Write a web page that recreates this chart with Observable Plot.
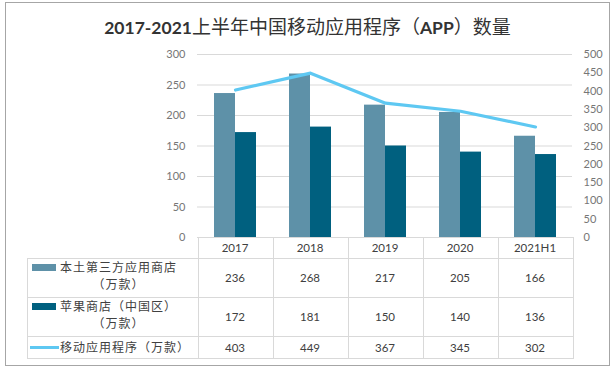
<!DOCTYPE html>
<html>
<head>
<meta charset="utf-8">
<script src="https://cdn.jsdelivr.net/npm/d3@7"></script>
<script src="https://cdn.jsdelivr.net/npm/@observablehq/plot@0.6"></script>
<style>
  html, body { margin: 0; padding: 0; background: #fff; }
  #wrap { position: relative; width: 615px; height: 368px; overflow: hidden; background: #fff;
          font-family: Lato, "Noto Sans CJK SC", sans-serif; }
  #frame { position: absolute; left: 5px; top: 2px; width: 605px; height: 364px; box-sizing: border-box;
           border: 1px solid #a6a6a6; }
  #title { position: absolute; left: 0; top: 13px; width: 615px; text-align: center; line-height: 25px;
           font-size: 19px; color: #333; font-family: "Noto Sans CJK SC", sans-serif; white-space: nowrap; }
  #title .lat { font-family: Lato, sans-serif; font-weight: bold; font-size: 17.5px; }
  #chart { position: absolute; left: 0; top: 0; }
  .cell { position: absolute; box-sizing: border-box; display: flex; align-items: center; justify-content: center;
          font-size: 11.5px; color: #404040; }
  .hl { position: absolute; height: 1px; background: #d9d9d9; }
  .vl { position: absolute; width: 1px; background: #d9d9d9; }
  .leg { position: absolute; box-sizing: border-box; display: flex; align-items: center;
         font-family: "Noto Sans CJK SC", sans-serif; font-size: 12px; letter-spacing: 1px; color: #404040; }
  .leg .txt { text-align: center; line-height: 16.5px; white-space: nowrap; }
</style>
</head>
<body>
<div id="wrap">
  <div id="frame"></div>
  <div id="title"></div>
</div>
<script>
// ---- data ----
const title = "2017-2021上半年中国移动应用程序（APP）数量";
const years = ["2017", "2018", "2019", "2020", "2021H1"];
const localStore = [236, 268, 217, 205, 166];   // 本土第三方应用商店（万款）
const appleStore = [172, 181, 150, 140, 136];   // 苹果商店（中国区）（万款）
const mobileApps = [403, 449, 367, 345, 302];   // 移动应用程序（万款）
const seriesNames = ["本土第三方应用商店（万款）", "苹果商店（中国区）（万款）", "移动应用程序（万款）"];
const leftTicks = [0, 50, 100, 150, 200, 250, 300];
const rightTicks = [0, 50, 100, 150, 200, 250, 300, 350, 400, 450, 500];

// ---- styles ----
const colors = ["#5e91a8", "#00607f", "#5ec8f2"];
const W = 615, H = 368;
const ratio = 300 / 500; // right axis -> left axis

const rows = years.map((y, i) => ({year: y, local: localStore[i], apple: appleStore[i], apps: mobileApps[i]}));

// Title (latin runs bold)
document.getElementById("title").innerHTML = title.replace(/[0-9A-Za-z\-]+/g, m => `<span class="lat">${m}</span>`);

const plot = Plot.plot({
  width: W, height: H,
  marginLeft: 197, marginRight: 43, marginTop: 54, marginBottom: 131,
  style: {fontFamily: "Lato, 'Noto Sans CJK SC', sans-serif", fontSize: "11px", background: "transparent"},
  x: {type: "band", domain: years, paddingInner: 0.44, paddingOuter: 0.22, axis: null},
  y: {domain: [0, 300]},
  marks: [
    Plot.ruleY(leftTicks, {stroke: "#d9d9d9", strokeWidth: 1}),
    Plot.barY(rows, {x: "year", y: "local", fill: colors[0], insetRight: 21}),
    Plot.barY(rows, {x: "year", y: "apple", fill: colors[1], insetLeft: 21}),
    Plot.lineY(rows, {x: "year", y: d => d.apps * ratio, stroke: colors[2], strokeWidth: 3.2}),
    Plot.axisY({anchor: "left", ticks: leftTicks, tickSize: 0, tickPadding: 12, label: null, color: "#767676", fontSize: 11}),
    Plot.axisY({anchor: "right", ticks: rightTicks.map(v => v * ratio), tickFormat: d => String(Math.round(d / ratio)),
                tickSize: 0, tickPadding: 11, label: null, color: "#767676", fontSize: 11})
  ]
});
plot.id = "chart";
const wrap = document.getElementById("wrap");
wrap.appendChild(plot);

// ---- data table below the plot, aligned to the x scale ----
const xs = plot.scale("x");
const step = xs.step, bw = xs.bandwidth;
const colLeft = years.map(y => xs.apply(y) - (step - bw) / 2);
const tableRight = colLeft[colLeft.length - 1] + step;
const legLeft = 27;
const rowY = [237, 258, 297, 336, 358];

function add(cls, style, html) {
  const d = document.createElement("div");
  d.className = cls;
  Object.assign(d.style, style);
  if (html != null) d.innerHTML = html;
  wrap.appendChild(d);
  return d;
}
// horizontal lines
add("hl", {left: colLeft[0] + "px", top: rowY[0] + "px", width: (tableRight - colLeft[0]) + "px"});
for (let r = 1; r < rowY.length; r++)
  add("hl", {left: legLeft + "px", top: rowY[r] + "px", width: (tableRight - legLeft + 1) + "px"});
// vertical lines
add("vl", {left: legLeft + "px", top: rowY[1] + "px", height: (rowY[4] - rowY[1]) + "px"});
for (const cx of [...colLeft, tableRight])
  add("vl", {left: cx + "px", top: rowY[0] + "px", height: (rowY[4] - rowY[0]) + "px"});

// header cells
years.forEach((y, i) => add("cell", {left: colLeft[i] + "px", top: rowY[0] + "px", width: step + "px", height: (rowY[1] - rowY[0]) + "px"}, y));
// data cells
const series = [localStore, appleStore, mobileApps];
series.forEach((vals, r) => {
  vals.forEach((v, i) => add("cell", {left: colLeft[i] + "px", top: rowY[r + 1] + "px", width: step + "px", height: (rowY[r + 2] - rowY[r + 1]) + "px"}, String(v)));
  // legend cell
  const name = seriesNames[r];
  const lines = name.length > 10 ? [name.slice(0, name.length - 4), name.slice(name.length - 4)] : [name];
  const sw = r < 2
    ? `<div style="width:24px;height:7px;background:${colors[r]};margin-left:5px;margin-right:4px;flex:none"></div>`
    : `<div style="width:29px;height:3px;background:${colors[r]};margin-left:3px;margin-right:1px;flex:none"></div>`;
  add("leg", {left: legLeft + "px", top: rowY[r + 1] + "px", width: (colLeft[0] - legLeft) + "px", height: (rowY[r + 2] - rowY[r + 1] + 1) + "px",
              alignItems: lines.length > 1 ? "flex-start" : "center", paddingTop: lines.length > 1 ? "1px" : "0"},
      sw + `<div class="txt">${lines.join("<br>")}</div>`);
});
// vertically align swatches with first text line for two-line rows
document.querySelectorAll(".leg").forEach(l => {
  if (l.style.alignItems === "flex-start") l.firstElementChild.style.marginTop = "5px";
});
</script>
</body>
</html>
